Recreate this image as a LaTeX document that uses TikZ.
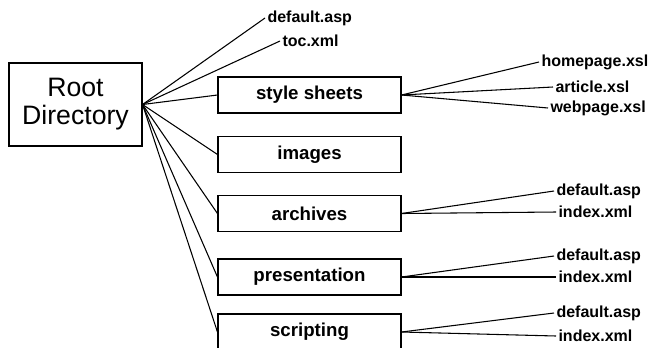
\documentclass[tikz,border=0pt]{standalone}
\usepackage{fontspec}
\setmainfont{Liberation Sans}

\begin{document}
\begin{tikzpicture}[x=0.75pt, y=-0.75pt, line width=0.8pt,
    rootbox/.style={draw, align=center, minimum width=99.75pt, minimum height=62.25pt,
        font=\fontsize{20}{21}\selectfont},
    folder/.style={draw, minimum width=137.25pt, minimum height=27pt,
        font=\fontsize{14}{16}\selectfont\bfseries},
    file/.style={anchor=west, inner sep=1.5pt,
        font=\fontsize{12}{14}\selectfont\bfseries}]
    % Page frame
    \clip (0,0) rectangle (648,347);

    % Root and its folders
    \node[rootbox] (root) at (75.5,104.5) {Root\\Directory};
    \node[folder] (style) at (309.5,95) {style sheets};
    \node[folder] (images) at (309.5,154.5) {images};
    \node[folder] (archives) at (309.5,213.5) {archives};
    \node[folder] (present) at (309.5,277) {presentation};
    \node[folder] (script) at (309.5,332) {scripting};

    % Files in the root
    \node[file] (rdefault) at (265,18) {default.asp};
    \node[file] (rtoc) at (280,41) {toc.xml};

    % Files in the folders
    \node[file] (homepage) at (539,62) {homepage.xsl};
    \node[file] (article) at (553,87) {article.xsl};
    \node[file] (webpage) at (548,108) {webpage.xsl};
    \node[file] (adefault) at (554,191) {default.asp};
    \node[file] (aindex) at (556,212) {index.xml};
    \node[file] (pdefault) at (554,256) {default.asp};
    \node[file] (pindex) at (556,277) {index.xml};
    \node[file] (sdefault) at (554,313) {default.asp};
    \node[file] (sindex) at (556,336) {index.xml};

    % Branches from the root
    \draw (root.east) -- (rdefault.west);
    \draw (root.east) -- (rtoc.west);
    \draw (root.east) -- (style.west);
    \draw (root.east) -- (images.west);
    \draw (root.east) -- (archives.west);
    \draw (root.east) -- (present.west);
    \draw (root.east) -- (script.west);

    % Branches from the folders
    \draw (style.east) -- (homepage.west);
    \draw (style.east) -- (article.west);
    \draw (style.east) -- (webpage.west);
    \draw (archives.east) -- (adefault.west);
    \draw (archives.east) -- (aindex.west);
    \draw (present.east) -- (pdefault.west);
    \draw (present.east) -- (pindex.west);
    \draw (script.east) -- (sdefault.west);
    \draw (script.east) -- (sindex.west);
\end{tikzpicture}
\end{document}
